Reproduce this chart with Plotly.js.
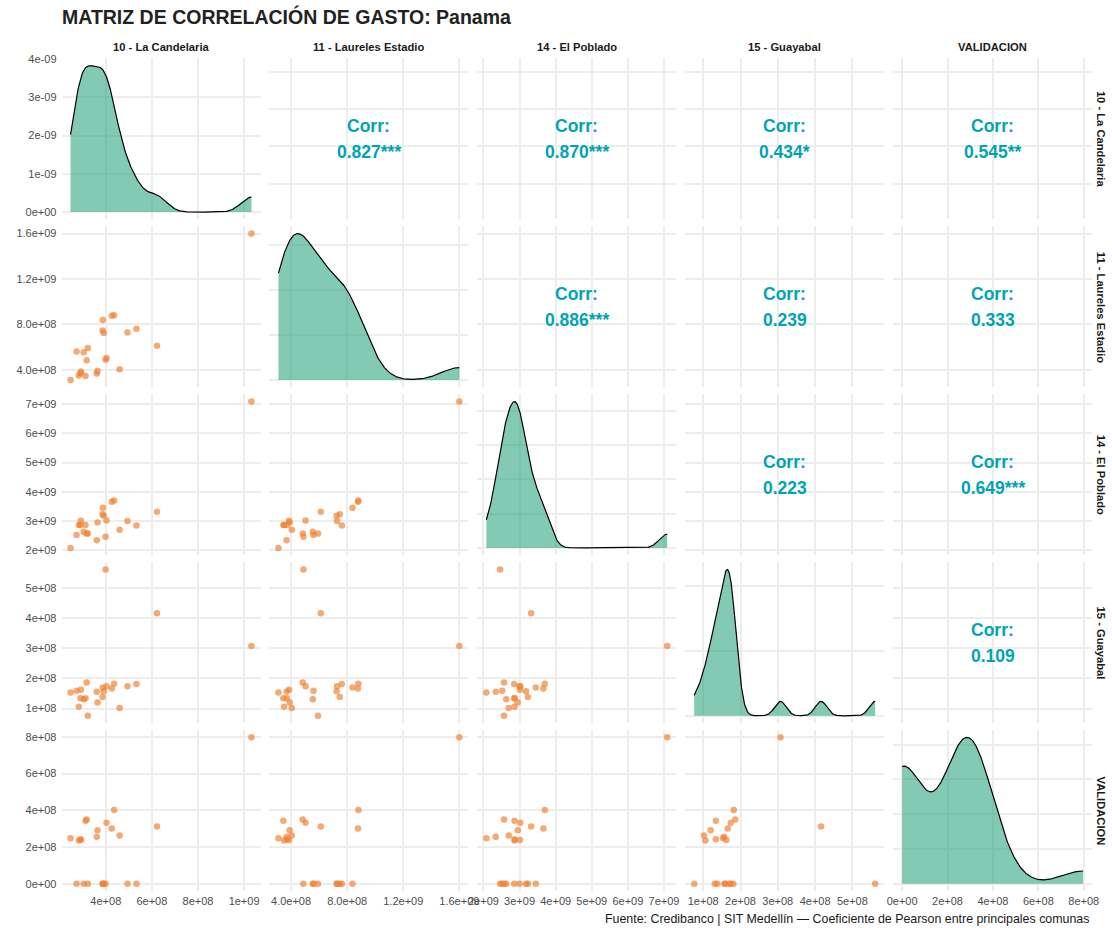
<!DOCTYPE html>
<html><head><meta charset="utf-8">
<script src="https://cdn.plot.ly/plotly-3.0.1.min.js"></script>
<style>body{margin:0;background:#fff}#chart{width:1112px;height:928px}</style>
</head><body><div id="chart"></div>
<script>
// ---- data ----
const comunas = ['10 - La Candelaria','11 - Laureles Estadio','14 - El Poblado','15 - Guayabal','VALIDACION'];
const candelaria = [2.47e8,2.73e8,2.83e8,2.90e8,2.92e8,3.04e8,3.12e8,3.17e8,3.22e8,3.61e8,3.64e8,3.86e8,3.87e8,3.91e8,3.99e8,4.03e8,4.26e8,4.36e8,4.60e8,4.94e8,5.33e8,6.22e8,1.032e9];
const laureles   = [3.10e8,5.60e8,3.50e8,3.70e8,3.85e8,5.55e8,3.45e8,4.83e8,5.92e8,3.68e8,3.90e8,7.47e8,8.38e8,7.25e8,4.88e8,5.03e8,8.77e8,8.80e8,4.05e8,7.28e8,7.62e8,6.12e8,1.60e9];
const poblado    = [2.08e9,2.52e9,2.86e9,2.86e9,3.01e9,2.63e9,2.86e9,2.57e9,2.57e9,2.34e9,2.95e9,3.23e9,3.45e9,3.18e9,2.46e9,3.02e9,3.66e9,3.70e9,2.70e9,3.00e9,2.85e9,3.32e9,7.09e9];
const guayabal   = [1.53e8,1.59e8,1.06e8,1.34e8,1.62e8,1.31e8,1.34e8,1.86e8,0.76e8,1.56e8,1.20e8,1.38e8,1.70e8,1.57e8,5.61e8,1.74e8,1.66e8,1.82e8,1.02e8,1.74e8,1.81e8,4.16e8,3.07e8];
const validacion = [2.47e8,0,2.35e8,2.42e8,2.38e8,0,3.43e8,3.50e8,0,2.56e8,2.91e8,0,0,0,0,3.32e8,3.01e8,4.01e8,2.62e8,0,0,3.12e8,7.97e8];
// correlation labels of the upper panels, row by row
const corrLabels = ['0.827***','0.870***','0.434*','0.545**','0.886***','0.239','0.333','0.223','0.649***','0.109'];
// tick values / labels per variable
const tickVals = [
  [2e8,4e8,6e8,8e8,1e9],
  [4e8,8e8,1.2e9,1.6e9],
  [2e9,3e9,4e9,5e9,6e9,7e9],
  [1e8,2e8,3e8,4e8,5e8],
  [0,2e8,4e8,6e8,8e8]
];
const tickText = [
  ['2e+08','4e+08','6e+08','8e+08','1e+09'],
  ['4.0e+08','8.0e+08','1.2e+09','1.6e+09'],
  ['2e+09','3e+09','4e+09','5e+09','6e+09','7e+09'],
  ['1e+08','2e+08','3e+08','4e+08','5e+08'],
  ['0e+00','2e+08','4e+08','6e+08','8e+08']
];
const densTickVals = [0,1e-9,2e-9,3e-9,4e-9];
const densTickText = ['0e+00','1e-09','2e-09','3e-09','4e-09'];
const titleText = 'MATRIZ DE CORRELACIÓN DE GASTO: Panama';
const captionText = 'Fuente: Credibanco | SIT Medellín — Coeficiente de Pearson entre principales comunas';

const vars = [candelaria, laureles, poblado, guayabal, validacion];

// ---- helpers ----
function quantile7(s,p){const h=(s.length-1)*p;const lo=Math.floor(h);const hi=Math.ceil(h);return s[lo]+(h-lo)*(s[hi]-s[lo]);}
function bwNrd0(x){
  const n=x.length;const m=x.reduce((a,b)=>a+b,0)/n;
  const sd=Math.sqrt(x.reduce((a,b)=>a+(b-m)*(b-m),0)/(n-1));
  const s=[...x].sort((a,b)=>a-b);const iqr=quantile7(s,0.75)-quantile7(s,0.25);
  let lo=Math.min(sd,iqr/1.34); if(!(lo>0)) lo = sd||Math.abs(s[0])||1;
  return 0.9*lo*Math.pow(n,-0.2);
}
function kde(x){
  const bw=bwNrd0(x);const mn=Math.min(...x),mx=Math.max(...x);const N=512;
  const xs=[],ys=[];const n=x.length;const c=1/(n*bw*Math.sqrt(2*Math.PI));
  for(let k=0;k<N;k++){const t=mn+(mx-mn)*k/(N-1);let s=0;for(const v of x){const z=(t-v)/bw;s+=Math.exp(-0.5*z*z);}xs.push(t);ys.push(s*c);}
  return {xs,ys};
}
function expRange(a,b){const d=b-a;return [a-0.05*d,b+0.05*d];}

// ---- geometry (pixels) ----
const W=1112,H=928;
const colLeft=j=>61.5+207.9*j, colW=199;
const rowTop=i=>58.4+167.9*i, rowH=161;
const px=x=>x/W, py=y=>1-y/H;

const FONT='"Liberation Sans", Arial, sans-serif';
const gridColor='#EDEDED';
const gridW=2;
const tickFont={family:FONT,size:11,color:'#4D4D4D'};

const traces=[];const layout={
  width:W,height:H,paper_bgcolor:'#fff',plot_bgcolor:'#fff',showlegend:false,
  margin:{l:0,r:0,t:0,b:0},
  title:{text:'<b>'+titleText+'</b>',x:px(62),xanchor:'left',xref:'paper',y:py(17),yanchor:'middle',yref:'paper',font:{family:FONT,size:19.5,color:'#222222'}},
  annotations:[]
};

for(let i=0;i<5;i++){
  for(let j=0;j<5;j++){
    const k=i*5+j+1;const xa='xaxis'+(k===1?'':k), ya='yaxis'+(k===1?'':k);
    const xr='x'+(k===1?'':k), yr='y'+(k===1?'':k);
    const xv=vars[j], yv=vars[i];
    const xRange=expRange(Math.min(...xv),Math.max(...xv));
    let yRange=expRange(Math.min(...yv),Math.max(...yv));
    let yTv=tickVals[i], yTt=tickText[i];
    if(i===j){
      const d=kde(xv);const mxd=Math.max(...d.ys);
      yRange=[-0.05*mxd,1.05*mxd];
      yTv = i===0?densTickVals:undefined; yTt = i===0?densTickText:undefined;
      traces.push({type:'scatter',mode:'lines',x:d.xs,y:d.ys,xaxis:xr,yaxis:yr,fill:'tozeroy',
        fillcolor:'rgba(27,158,119,0.55)',line:{color:'#000',width:1.2},hoverinfo:'skip'});
    } else if(i>j){
      traces.push({type:'scatter',mode:'markers',x:xv,y:yv,xaxis:xr,yaxis:yr,
        marker:{size:6.5,color:'rgba(240,128,48,0.68)',line:{width:0}},hoverinfo:'skip'});
    } else {
      traces.push({type:'scatter',mode:'markers',x:[xRange[0]],y:[yRange[0]],xaxis:xr,yaxis:yr,marker:{opacity:0},hoverinfo:'skip'});
    }
    layout[xa]={domain:[px(colLeft(j)),px(colLeft(j)+colW)],range:xRange,anchor:yr,
      tickmode:'array',tickvals:tickVals[j],ticktext:tickText[j],showticklabels:i===4,
      tickfont:tickFont,ticks:'',showgrid:true,gridcolor:gridColor,gridwidth:gridW,zeroline:false,showline:false,fixedrange:true,ticklabelstandoff:2};
    const yax={domain:[py(rowTop(i)+rowH),py(rowTop(i))],range:yRange,anchor:xr,
      showticklabels:j===0,tickfont:tickFont,ticks:'',showgrid:true,gridcolor:gridColor,gridwidth:gridW,zeroline:false,showline:false,fixedrange:true,ticklabelstandoff:4};
    if(yTv){yax.tickmode='array';yax.tickvals=yTv;yax.ticktext=yTt;} else {yax.nticks=5;}
    layout[ya]=yax;
    if(i<j){
      const idx=[[0,1],[0,2],[0,3],[0,4],[1,2],[1,3],[1,4],[2,3],[2,4],[3,4]].findIndex(p=>p[0]===i&&p[1]===j);
      const cx=colLeft(j)+colW/2, cy=rowTop(i)+rowH/2;
      const cfont={family:FONT,size:17.5,color:'#00A3B6'};
      layout.annotations.push({xref:'paper',yref:'paper',x:px(cx),y:py(cy-12.5),text:'<b>Corr:</b>',showarrow:false,xanchor:'center',yanchor:'middle',font:cfont});
      layout.annotations.push({xref:'paper',yref:'paper',x:px(cx),y:py(cy+13.5),text:'<b>'+corrLabels[idx]+'</b>',showarrow:false,xanchor:'center',yanchor:'middle',font:cfont});
    }
  }
}
// strip labels
for(let j=0;j<5;j++){
  layout.annotations.push({xref:'paper',yref:'paper',x:px(colLeft(j)+colW/2),y:py(47),text:'<b>'+comunas[j]+'</b>',showarrow:false,xanchor:'center',yanchor:'middle',font:{family:FONT,size:11.2,color:'#1A1A1A'}});
}
for(let i=0;i<5;i++){
  layout.annotations.push({xref:'paper',yref:'paper',x:px(1101),y:py(rowTop(i)+rowH/2),text:'<b>'+comunas[i]+'</b>',textangle:90,showarrow:false,xanchor:'center',yanchor:'middle',font:{family:FONT,size:11.2,color:'#1A1A1A'}});
}
layout.annotations.push({xref:'paper',yref:'paper',x:px(1091),y:py(919),text:captionText,showarrow:false,xanchor:'right',yanchor:'middle',font:{family:FONT,size:12.4,color:'#1A1A1A'}});

Plotly.newPlot('chart',traces,layout,{staticPlot:true,displayModeBar:false});
</script></body></html>
